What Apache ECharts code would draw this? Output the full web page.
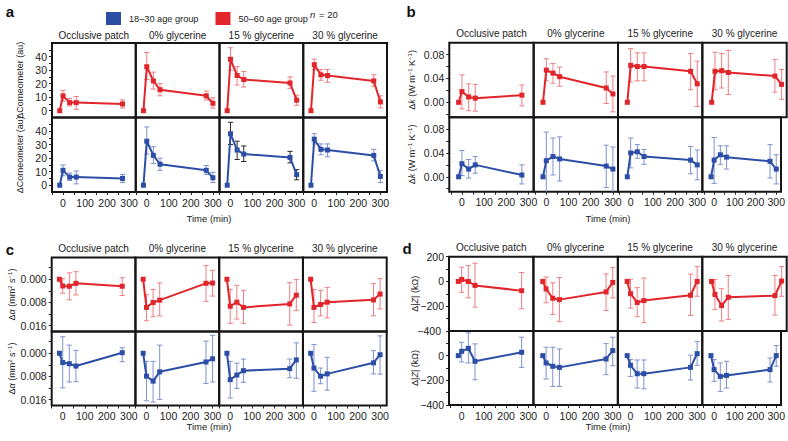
<!DOCTYPE html>
<html><head><meta charset="utf-8">
<script src="https://cdn.jsdelivr.net/npm/echarts@6/dist/echarts.min.js"></script>
<style>html,body{margin:0;padding:0;background:#fff}#c{width:788px;height:441px}</style>
</head><body><div id="c"></div>
<script>
// ---------- categories ----------
const timesOcclusive = [-15, 0, 30, 60, 270];
const timesGlycerine = [-15, 0, 30, 60, 270, 300];
const conditions = ['Occlusive patch', '0% glycerine', '15 % glycerine', '30 % glycerine'];
const groupYoung = '18–30 age group';
const groupOld = '50–60 age group';
const xTickValues = [-50, 0, 50, 100, 150, 200, 250, 300];
const xTickLabels = [0, 100, 200, 300];

// ---------- panel a : ΔCorneometer (au) ----------
const aOldMean = [[0, 11, 6, 6, 5], [0, 32.5, 22, 15.5, 11, 5.5], [0, 38, 26, 23, 20.5, 7.8], [0, 34, 26.5, 26, 22, 6.5]];
const aOldLow  = [[null, 7, 3.5, 1, 2], [null, 23, 16, 11, 8, 2], [null, 30, 19, 17.5, 16.5, 4], [null, 30.5, 22.5, 21, 18, 2]];
const aOldHigh = [[null, 15, 9, 10.5, 8], [null, 43, 28.5, 20, 14.5, 9.5], [null, 46.5, 32.5, 29, 25, 11.5], [null, 38, 30.5, 30.5, 26.5, 11]];
const aYoungMean = [[0, 11, 6, 6, 5], [0, 32.5, 22, 15.5, 11, 5.5], [0, 38, 26, 23, 20.5, 7.8], [0, 34, 26.5, 26, 22, 6.5]];
const aYoungLow  = [[null, 7, 3.5, 1, 2], [null, 23, 16, 11, 8, 2], [null, 30, 19, 17.5, 16.5, 4], [null, 30.5, 22.5, 21, 18, 2]];
const aYoungHigh = [[null, 15, 9, 10.5, 8], [null, 43, 28.5, 20, 14.5, 9.5], [null, 46.5, 32.5, 29, 25, 11.5], [null, 38, 30.5, 30.5, 26.5, 11]];
const aYTicks = [0, 5, 10, 15, 20, 25, 30, 35, 40, 45];
const aYLabels = [0, 10, 20, 30, 40];

// ---------- panel b : Δk ----------
const bOldMean = [[0, 0.018, 0.009, 0.007, 0.012], [0, 0.054, 0.049, 0.043, 0.024, 0.014], [0, 0.062, 0.060, 0.060, 0.052, 0.031], [0, 0.052, 0.053, 0.050, 0.044, 0.030]];
const bOldLow  = [[null, -0.011, -0.014, -0.015, -0.006], [null, 0.036, 0.032, 0.027, -0.002, -0.016], [null, 0.034, 0.036, 0.036, 0.021, -0.007], [null, 0.021, 0.024, 0.013, 0.017, 0.005]];
const bOldHigh = [[null, 0.046, 0.031, 0.030, 0.029], [null, 0.073, 0.065, 0.059, 0.051, 0.044], [null, 0.090, 0.083, 0.083, 0.082, 0.069], [null, 0.084, 0.082, 0.087, 0.072, 0.055]];
const bYoungMean = [[0, 0.022, 0.013, 0.020, 0.003], [0, 0.027, 0.034, 0.030, 0.018, 0.013], [0, 0.040, 0.042, 0.034, 0.028, 0.020], [0, 0.028, 0.037, 0.033, 0.026, 0.013]];
const bYoungLow  = [[null, 0.002, -0.002, 0.006, -0.012], [null, -0.030, 0.003, -0.007, -0.018, -0.030], [null, 0.015, 0.031, 0.021, 0.005, -0.005], [null, -0.011, 0.021, 0.013, -0.002, -0.012]];
const bYoungHigh = [[null, 0.044, 0.029, 0.034, 0.020], [null, 0.075, 0.065, 0.067, 0.053, 0.050], [null, 0.065, 0.054, 0.046, 0.051, 0.045], [null, 0.066, 0.052, 0.052, 0.054, 0.037]];
const bYTicks = [-0.02, 0, 0.02, 0.04, 0.06, 0.08];
const bYLabels = [0, 0.04, 0.08];

// ---------- panel c : Δα (inverted axis) ----------
const cOldMean = [[0, 0.0023, 0.0024, 0.0014, 0.0024], [0, 0.0097, 0.0080, 0.0072, 0.0014, 0.0013], [0, 0.0093, 0.0079, 0.0097, 0.0085, 0.0055], [0, 0.0097, 0.0087, 0.0079, 0.0071, 0.0051]];
const cOldLow  = [[null, -0.0002, -0.0022, -0.0026, -0.0005], [null, 0.0053, 0.0035, 0.0012, -0.0047, -0.0031], [null, 0.0035, 0.0021, 0.0038, 0.0012, 0.0001], [null, 0.0035, 0.0038, 0.0028, 0.0015, -0.0002]];
const cOldHigh = [[null, 0.0048, 0.0071, 0.0054, 0.0056], [null, 0.0143, 0.0129, 0.0126, 0.0076, 0.0058], [null, 0.0152, 0.0137, 0.0152, 0.0158, 0.0108], [null, 0.0149, 0.0126, 0.0133, 0.0126, 0.0102]];
const cYoungMean = [[0, 0.0032, 0.0036, 0.0044, -0.0002], [0, 0.0079, 0.0096, 0.0064, 0.0030, 0.0019], [0, 0.0091, 0.0075, 0.0060, 0.0053, 0.0023], [0, 0.0051, 0.0079, 0.0071, 0.0033, 0.0005]];
const cYoungLow  = [[null, -0.0057, -0.0028, -0.0010, -0.0019], [null, 0.0028, 0.0028, -0.0028, -0.0042, -0.0062], [null, 0.0028, 0.0034, 0.0020, 0.0020, -0.0036], [null, -0.0030, 0.0051, 0.0014, -0.0009, -0.0060]];
const cYoungHigh = [[null, 0.0119, 0.0099, 0.0098, 0.0029], [null, 0.0164, 0.0168, 0.0159, 0.0104, 0.0099], [null, 0.0154, 0.0121, 0.0100, 0.0084, 0.0086], [null, 0.0131, 0.0105, 0.0127, 0.0071, 0.0072]];
const cYTicks = [-0.004, 0, 0.004, 0.008, 0.012, 0.016];
const cYLabels = [0, 0.008, 0.016];

// ---------- panel d : Δ|Z| (kΩ) ----------
const dOldMean = [[0, 16, 0, -32, -75], [0, -61, -136, -147, -85, -8], [0, -99, -170, -155, -112, 0], [0, -105, -195, -128, -115, 3]];
const dOldLow  = [[null, -88, -133, -208, -221], [null, -173, -267, -325, -235, -133], [null, -215, -285, -333, -275, -120], [null, -228, -320, -307, -272, -120]];
const dOldHigh = [[null, 115, 128, 147, 72], [null, 35, -11, 32, 61, 112], [null, 18, -50, 27, 59, 120], [null, 15, -59, 48, 48, 120]];
const dYoungMean = [[0, 35, 59, -46, 27], [0, -59, -86, -95, -27, 41], [0, -78, -146, -146, -95, 16], [0, -113, -168, -160, -113, 0]];
const dYoungLow  = [[null, -51, -59, -195, -95], [null, -189, -249, -249, -154, -81], [null, -168, -262, -268, -197, -78], [null, -208, -289, -262, -213, -86]];
const dYoungHigh = [[null, 108, 184, 95, 149], [null, 68, 68, 54, 97, 149], [null, -32, -35, -35, 4, 113], [null, -32, -59, -46, -19, 81]];
const dYTicks = [-400, -300, -200, -100, 0, 100, 200];
const dYLabelsTop = [-200, 0, 200];
const dYLabelsBottom = [-400, -200, 0];
const dYLabelTopEdge = -400;   // lower-edge label of the upper Δ|Z| axis

// ---------- styles ----------
const RED = '#e2242b', RED_ERR = '#ef7f84';
const BLUE = '#2d4ea6', BLUE_ERR = '#7e92cf';
const DARK_ERR = '#2a2a2a';
const FONT = '"Liberation Sans", Arial, Helvetica, sans-serif';
const minus = s => String(s).replace('-', '\u2212');

const panels = [
  {letter: 'a', left: 52, top: 43, width: 335, rowH: 74.5, xMin: -50, xMax: 330, yMin: -5, yMax: 50, inverse: false,
   yTicks: aYTicks, yLabels: [aYLabels, aYLabels], fmt: v => String(v), name: '{n|ΔCorneometer (au)}', nameX: 20,
   old: [aOldMean, aOldLow, aOldHigh], young: [aYoungMean, aYoungLow, aYoungHigh],
   letterXY: [10, 11], titleY: 35, timeXY: [209, 218], darkErr: [1, 2]},
  {letter: 'b', left: 449.3, top: 42.7, width: 337.4, rowH: 74.5, xMin: -57, xMax: 323, yMin: -0.025, yMax: 0.1, inverse: false,
   yTicks: bYTicks, yLabels: [bYLabels, bYLabels], fmt: v => Number(v).toFixed(2), name: '{n|Δ}{i|k}{n| (W m}{s|−1}{n| K}{s|−1}{n|)}', nameX: 412,
   old: [bOldMean, bOldLow, bOldHigh], young: [bYoungMean, bYoungLow, bYoungHigh],
   letterXY: [411, 11], titleY: 33, timeXY: [608, 218]},
  {letter: 'c', left: 51.7, top: 257.5, width: 335, rowH: 74, xMin: -50, xMax: 330, yMin: -0.0075, yMax: 0.018, inverse: true,
   yTicks: cYTicks, yLabels: [cYLabels, cYLabels], fmt: v => Number(v).toFixed(3), name: '{n|Δ}{i|α}{n| (mm}{s|2}{n| s}{s|−1}{n|)}', nameX: 12,
   old: [cOldMean, cOldLow, cOldHigh], young: [cYoungMean, cYoungLow, cYoungHigh],
   letterXY: [10, 249], titleY: 248, timeXY: [209, 426]},
  {letter: 'd', left: 449, top: 256.7, width: 337.7, rowH: 74.2, xMin: -57, xMax: 323, yMin: -400, yMax: 200, inverse: false,
   yTicks: dYTicks, yLabels: [dYLabelsTop, dYLabelsBottom], fmt: v => minus(v), name: '{n|Δ|}{i|Z}{n|| (kΩ)}', nameX: 415,
   old: [dOldMean, dOldLow, dOldHigh], young: [dYoungMean, dYoungLow, dYoungHigh],
   letterXY: [407, 248], titleY: 247, timeXY: [608, 426], extraLabel: dYLabelTopEdge}
];

const grid = [], xAxis = [], yAxis = [], series = [], graphic = [];

function errRender(color) {
  return function (params, api) {
    const x = api.value(0), lo = api.value(1), hi = api.value(2);
    const p1 = api.coord([x, lo]), p2 = api.coord([x, hi]);
    const w = 2.6;
    const style = {stroke: color, lineWidth: 1};
    return {type: 'group', children: [
      {type: 'line', shape: {x1: p1[0], y1: p1[1], x2: p2[0], y2: p2[1]}, style},
      {type: 'line', shape: {x1: p1[0] - w, y1: p1[1], x2: p1[0] + w, y2: p1[1]}, style},
      {type: 'line', shape: {x1: p2[0] - w, y1: p2[1], x2: p2[0] + w, y2: p2[1]}, style}
    ]};
  };
}

const nameRich = {
  n: {fontSize: 9, fontFamily: FONT, fill: '#222'},
  i: {fontSize: 9, fontFamily: FONT, fill: '#222', fontStyle: 'italic'},
  s: {fontSize: 6, fontFamily: FONT, fill: '#222', verticalAlign: 'top', padding: [0, 0, 5, 0]}
};

panels.forEach(p => {
  const colW = p.width / 4;
  for (let r = 0; r < 2; r++) {
    for (let c = 0; c < 4; c++) {
      const g = grid.length;
      grid.push({left: p.left + c * colW, top: p.top + r * p.rowH, width: colW, height: p.rowH,
        show: true, borderColor: '#151515', borderWidth: 2, backgroundColor: 'transparent', containLabel: false});
      const bottom = r === 1;
      xAxis.push({type: 'value', gridIndex: g, min: p.xMin, max: p.xMax, position: 'bottom',
        axisLine: {show: false, onZero: false}, splitLine: {show: false},
        axisTick: {show: bottom, customValues: xTickValues, length: 3, lineStyle: {color: '#222', width: 1}},
        axisLabel: {show: bottom, customValues: xTickLabels, formatter: v => String(v), fontSize: 10.5, fontFamily: FONT, color: '#222', margin: 5}});
      const first = c === 0;
      yAxis.push({type: 'value', gridIndex: g, min: p.yMin, max: p.yMax, inverse: p.inverse, position: 'left',
        axisLine: {show: false, onZero: false}, splitLine: {show: false},
        axisTick: {show: first, customValues: p.yTicks, length: 3, lineStyle: {color: '#222', width: 1}},
        axisLabel: {show: first, customValues: p.yLabels[r], formatter: p.fmt, fontSize: 10.5, fontFamily: FONT, color: '#222', margin: 5,
          showMinLabel: true, showMaxLabel: true, hideOverlap: false}});
      const src = r === 0 ? p.old : p.young;
      const times = c === 0 ? timesOcclusive : timesGlycerine;
      const mean = src[0][c], lo = src[1][c], hi = src[2][c];
      const col = r === 0 ? RED : BLUE;
      let errCol = r === 0 ? RED_ERR : BLUE_ERR;
      if (p.darkErr && p.darkErr[0] === r && p.darkErr[1] === c) errCol = DARK_ERR;
      const errData = [];
      times.forEach((t, i) => { if (lo[i] !== null) errData.push([t, lo[i], hi[i]]); });
      series.push({type: 'custom', xAxisIndex: g, yAxisIndex: g, data: errData,
        encode: {x: 0, y: [1, 2]}, renderItem: errRender(errCol), clip: true, z: 2, silent: true});
      series.push({type: 'line', name: r === 0 ? groupOld : groupYoung, xAxisIndex: g, yAxisIndex: g,
        data: times.map((t, i) => [t, mean[i]]), symbol: 'rect', symbolSize: 5,
        lineStyle: {width: 2, color: col}, itemStyle: {color: col}, z: 3, silent: true});
    }
    graphic.push({type: 'text', x: p.nameX, y: p.top + (r + 0.5) * p.rowH, rotation: Math.PI / 2,
      style: {text: p.name, align: 'center', verticalAlign: 'middle', fontSize: 9, fontFamily: FONT, fill: '#222', rich: nameRich}});
  }
  conditions.forEach((t, c) => {
    graphic.push({type: 'text', x: p.left + (c + 0.5) * colW, y: p.titleY,
      style: {text: t, align: 'center', verticalAlign: 'middle', fontSize: 10, fontFamily: FONT, fill: '#222'}});
  });
  graphic.push({type: 'text', x: p.letterXY[0], y: p.letterXY[1],
    style: {text: p.letter, align: 'center', verticalAlign: 'middle', fontSize: 15, fontWeight: 'bold', fontFamily: FONT, fill: '#111'}});
  graphic.push({type: 'text', x: p.timeXY[0], y: p.timeXY[1],
    style: {text: 'Time (min)', align: 'center', verticalAlign: 'middle', fontSize: 9.5, fontFamily: FONT, fill: '#222'}});
});

const chart = echarts.init(document.getElementById('c'), null, {renderer: 'svg'});
chart.setOption({
  animation: false,
  backgroundColor: '#fff',
  legend: {data: [groupYoung, groupOld], left: 101, top: 7, icon: 'rect', itemWidth: 15, itemHeight: 13, itemGap: 17,
    selectedMode: false, textStyle: {fontSize: 9.2, fontFamily: FONT, color: '#222', padding: [0, 0, 0, 3]}},
  grid, xAxis, yAxis, series, graphic
});

// lower-edge label of upper panel-d axis, positioned through that axis' scale
panels.forEach((p, pi) => {
  if (p.extraLabel === undefined) return;
  const g = pi * 8;
  const pt = chart.convertToPixel({xAxisIndex: g, yAxisIndex: g}, [p.xMin, p.extraLabel]);
  graphic.push({type: 'text', x: pt[0] - 8, y: pt[1],
    style: {text: p.fmt(p.extraLabel), align: 'right', verticalAlign: 'middle', fontSize: 10.5, fontFamily: FONT, fill: '#222'}});
});
graphic.push({type: 'text', x: 310, y: 14,
  style: {text: 'n', verticalAlign: 'middle', fontSize: 9.5, fontStyle: 'italic', fontFamily: FONT, fill: '#222'}});
graphic.push({type: 'text', x: 319, y: 14,
  style: {text: '= 20', verticalAlign: 'middle', fontSize: 9.5, fontFamily: FONT, fill: '#222'}});
chart.setOption({graphic});
</script></body></html>
